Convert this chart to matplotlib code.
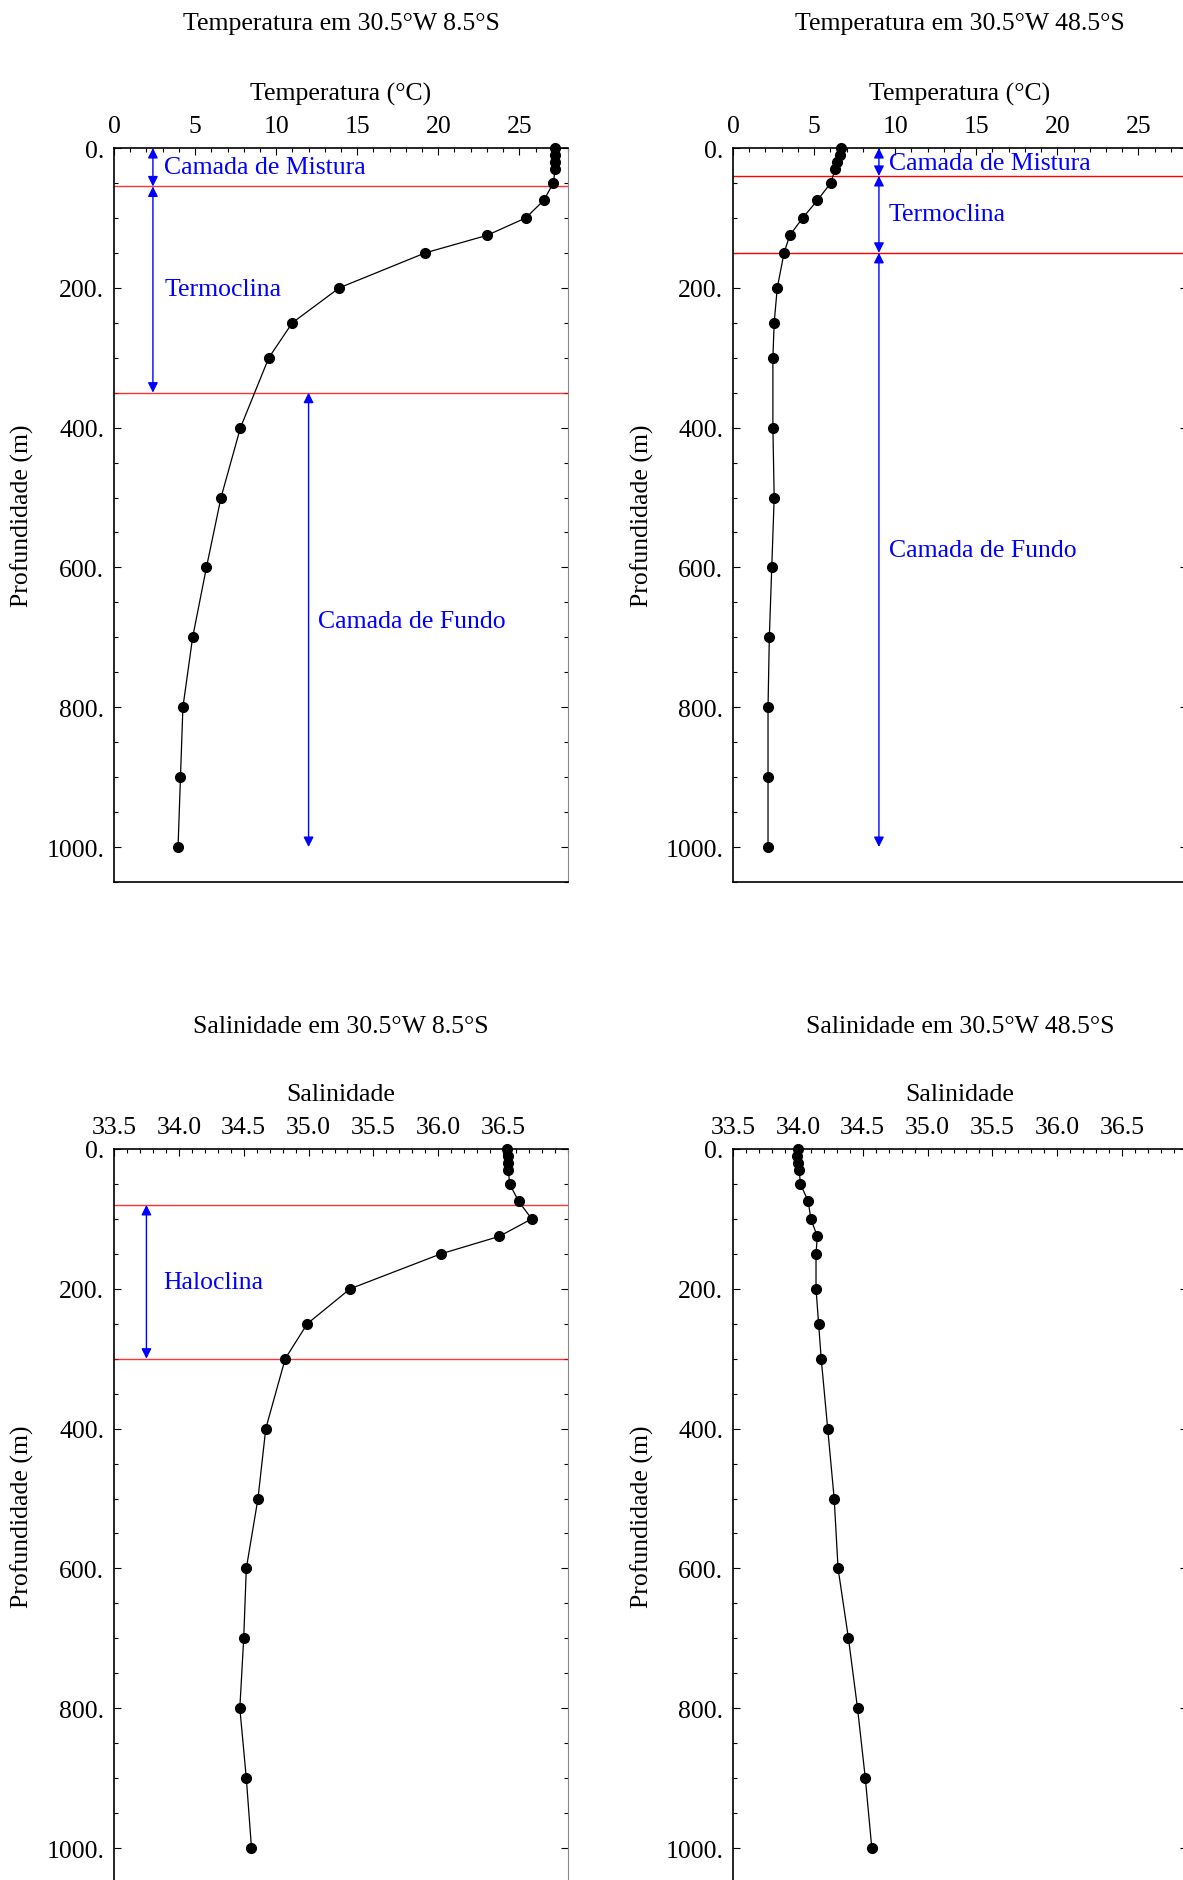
import matplotlib
matplotlib.use("Agg")
import matplotlib.pyplot as plt
from matplotlib.ticker import MultipleLocator

plt.rcParams['font.family'] = ['Liberation Serif', 'DejaVu Serif']

# profundidades padrao (m)
depth = [0, 10, 20, 30, 50, 75, 100, 125, 150, 200, 250, 300,
         400, 500, 600, 700, 800, 900, 1000]

temp_8s = [27.2, 27.2, 27.2, 27.2, 27.1, 26.5, 25.4, 23.0, 19.2, 13.9, 11.0, 9.55,
           7.8, 6.6, 5.7, 4.85, 4.25, 4.1, 3.95]
temp_48s = [6.67, 6.6, 6.4, 6.3, 6.03, 5.2, 4.3, 3.5, 3.15, 2.73, 2.54, 2.46,
            2.46, 2.54, 2.39, 2.24, 2.16, 2.16, 2.16]
sal_8s = [36.53, 36.54, 36.54, 36.54, 36.55, 36.62, 36.72, 36.47, 36.02, 35.32, 34.99, 34.82,
          34.67, 34.61, 34.52, 34.50, 34.47, 34.52, 34.56]
sal_48s = [34.0, 33.99, 34.0, 34.01, 34.02, 34.08, 34.10, 34.15, 34.14, 34.14, 34.16, 34.18,
           34.23, 34.28, 34.31, 34.39, 34.46, 34.52, 34.57]

# camadas: limites (m)
lim_temp_8s = [55, 350]
lim_temp_48s = [40, 150]
lim_sal_8s = [80, 300]

W, H = 1183, 1881
fig = plt.figure(figsize=(W / 100, H / 100), dpi=100)
FS = 18.5


def rect(left, top, w, h):
    return [left / W, 1 - (top + h) / H, w / W, h / H]


def txt(x, y, s, **kw):
    fig.text(x / W, 1 - y / H, s, fontsize=FS, ha='center', va='center', **kw)


def make_ax(left, top, xlim, xminor, xticks, xticklabels):
    ax = fig.add_axes(rect(left, top, 454, 734))
    ax.set_xlim(*xlim)
    ax.set_ylim(1050, 0)
    ax.xaxis.tick_top()
    ax.set_xticks(xticks)
    ax.set_xticklabels(xticklabels)
    ax.xaxis.set_minor_locator(MultipleLocator(xminor))
    ax.set_yticks([0, 200, 400, 600, 800, 1000])
    ax.set_yticklabels(['0.', '200.', '400.', '600.', '800.', '1000.'])
    ax.yaxis.set_minor_locator(MultipleLocator(50))
    ax.tick_params(which='both', direction='in', labelsize=FS, top=True, bottom=False,
                   left=True, right=True, width=0.8)
    ax.tick_params(which='major', length=5)
    ax.tick_params(axis='x', which='major', pad=8)
    ax.tick_params(axis='y', which='major', pad=7)
    ax.tick_params(which='minor', length=3)
    ax.spines['right'].set_color('#888888')
    for s in ['left', 'top', 'bottom']:
        ax.spines[s].set_linewidth(1.2)
    return ax


def perfil(ax, x, y):
    ax.plot(x, y, color='black', lw=0.9, zorder=3)
    ax.plot(x, y, 'o', color='black', ms=7, zorder=4, clip_on=False)


def seta(ax, x, y0, y1):
    ax.annotate('', xy=(x, y1), xytext=(x, y0),
                arrowprops=dict(arrowstyle='<|-|>', color='blue', lw=1,
                                mutation_scale=15, shrinkA=0, shrinkB=0))


def rotulo(ax, x, y, s):
    ax.text(x, y, s, color='blue', fontsize=FS, ha='left', va='center')


tticks = [0, 5, 10, 15, 20, 25]
tlabels = [str(v) for v in tticks]
sticks = [33.5, 34.0, 34.5, 35.0, 35.5, 36.0, 36.5]
slabels = ['%.1f' % v for v in sticks]

# Temperatura 8.5S
ax1 = make_ax(114, 149, (0, 28), 1, tticks, tlabels)
perfil(ax1, temp_8s, depth)
for d in lim_temp_8s:
    ax1.axhline(d, color='red', lw=1, alpha=0.8)
seta(ax1, 2.4, 0, lim_temp_8s[0])
seta(ax1, 2.4, lim_temp_8s[0], lim_temp_8s[1])
seta(ax1, 12.0, lim_temp_8s[1], 1000)
rotulo(ax1, 3.1, 27, 'Camada de Mistura')
rotulo(ax1, 3.1, 202, 'Termoclina')
rotulo(ax1, 12.6, 676, 'Camada de Fundo')

# Temperatura 48.5S
ax2 = make_ax(733, 149, (0, 28), 1, tticks, tlabels)
perfil(ax2, temp_48s, depth)
for d in lim_temp_48s:
    ax2.axhline(d, color='red', lw=1)
seta(ax2, 9.0, 0, lim_temp_48s[0])
seta(ax2, 9.0, lim_temp_48s[0], lim_temp_48s[1])
seta(ax2, 9.0, lim_temp_48s[1], 1000)
rotulo(ax2, 9.6, 21, 'Camada de Mistura')
rotulo(ax2, 9.6, 94, 'Termoclina')
rotulo(ax2, 9.6, 575, 'Camada de Fundo')

# Salinidade 8.5S
ax3 = make_ax(114, 1150, (33.5, 37.0), 0.1, sticks, slabels)
perfil(ax3, sal_8s, depth)
for d in lim_sal_8s:
    ax3.axhline(d, color='red', lw=1, alpha=0.8)
seta(ax3, 33.75, lim_sal_8s[0], lim_sal_8s[1])
rotulo(ax3, 33.88, 190, 'Haloclina')

# Salinidade 48.5S
ax4 = make_ax(733, 1150, (33.5, 37.0), 0.1, sticks, slabels)
perfil(ax4, sal_48s, depth)

# titulos e rotulos
txt(341, 24, 'Temperatura em 30.5°W 8.5°S')
txt(960, 24, 'Temperatura em 30.5°W 48.5°S')
txt(341, 94, 'Temperatura (°C)')
txt(960, 94, 'Temperatura (°C)')
txt(341, 1027, 'Salinidade em 30.5°W 8.5°S')
txt(960, 1027, 'Salinidade em 30.5°W 48.5°S')
txt(341, 1095, 'Salinidade')
txt(960, 1095, 'Salinidade')
for x in [22, 642]:
    txt(x, 516, 'Profundidade (m)', rotation=90)
    txt(x, 1517, 'Profundidade (m)', rotation=90)

fig.savefig('out.png', dpi=100)
